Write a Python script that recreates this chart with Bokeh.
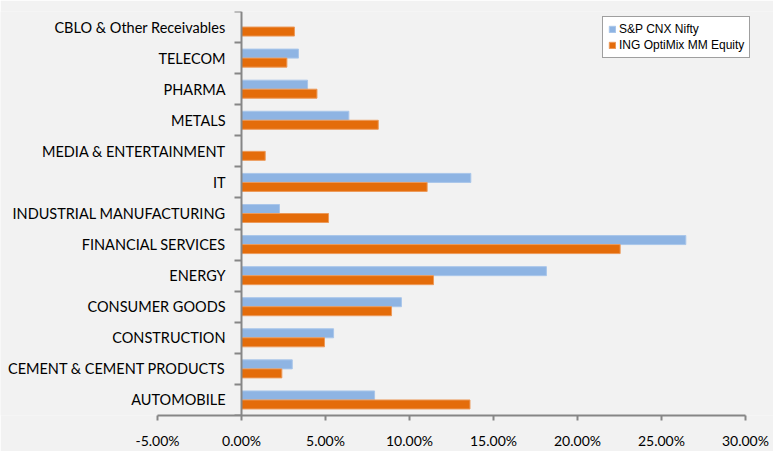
from bokeh.plotting import figure
from bokeh.models import (FixedTicker, LinearAxis, Range1d, Legend, LegendItem,
                          PrintfTickFormatter, ColumnDataSource)
from bokeh.transform import dodge
from bokeh.embed import file_html
from bokeh.resources import INLINE

categories = ["AUTOMOBILE", "CEMENT & CEMENT PRODUCTS", "CONSTRUCTION", "CONSUMER GOODS",
              "ENERGY", "FINANCIAL SERVICES", "INDUSTRIAL MANUFACTURING", "IT",
              "MEDIA & ENTERTAINMENT", "METALS", "PHARMA", "TELECOM",
              "CBLO & Other Receivables"]
nifty = [7.92, 3.02, 5.48, 9.52, 18.15, 26.45, 2.26, 13.65, 0.0, 6.39, 3.93, 3.39, 0.0]
ing = [13.60, 2.40, 4.94, 8.93, 11.43, 22.54, 5.18, 11.05, 1.41, 8.14, 4.49, 2.70, 3.15]
x_ticks = [-5, 0, 5, 10, 15, 20, 25, 30]
series_names = ["S&P CNX Nifty", "ING OptiMix MM Equity"]

BLUE = "#8EB4E3"
ORANGE = "#E46C0A"
BG = "#F2F2F2"
AXIS = "#868686"
FONT = "Lato"

n = len(categories)
ypos = [2 * i + 1 for i in range(n)]
source = ColumnDataSource(dict(y=ypos, nifty=nifty, ing=ing, cat=categories))

# visible axis runs from -5% to 30%; the frame is widened so the category labels fit inside it
p = figure(width=773, height=451, output_backend="svg", toolbar_location=None,
           x_range=Range1d(-14.35, 31.67), y_range=Range1d(0, 2 * n),
           y_axis_location=None, min_border_left=0, min_border_right=0,
           min_border_top=11, min_border_bottom=34)
p.background_fill_color = BG
p.border_fill_color = BG
p.outline_line_color = None
p.xgrid.visible = False
p.ygrid.visible = False

r1 = p.hbar(y=dodge("y", 0.29, range=p.y_range), left=0, right="nifty", height=0.58,
            source=source, fill_color=BLUE, line_color="#A9C6EA", line_width=1)
r2 = p.hbar(y=dodge("y", -0.29, range=p.y_range), left=0, right="ing", height=0.58,
            source=source, fill_color=ORANGE, line_color="#EC9A5A", line_width=1)

xa = p.xaxis[0]
xa.ticker = FixedTicker(ticks=x_ticks)
xa.bounds = (x_ticks[0], x_ticks[-1])
xa.formatter = PrintfTickFormatter(format="%.2f%%")
xa.axis_line_color = AXIS
xa.axis_line_width = 2
xa.major_tick_line_color = AXIS
xa.major_tick_line_width = 2
xa.major_tick_in = 0
xa.major_tick_out = 5
xa.minor_tick_line_color = None
xa.major_label_standoff = 11
xa.major_label_text_font = FONT
xa.major_label_text_font_size = "14px"
xa.major_label_text_color = "#000000"

tick_axis = LinearAxis(ticker=FixedTicker(ticks=list(range(0, 2 * n + 1, 2))),
                       fixed_location=0)
tick_axis.axis_line_color = AXIS
tick_axis.axis_line_width = 2
tick_axis.major_tick_line_color = AXIS
tick_axis.major_tick_line_width = 2
tick_axis.major_tick_in = 0
tick_axis.major_tick_out = 7
tick_axis.minor_tick_line_color = None
tick_axis.major_label_text_color = None
p.add_layout(tick_axis, "left")

label_axis = LinearAxis(ticker=FixedTicker(ticks=ypos),
                        major_label_overrides={y: c for y, c in zip(ypos, categories)},
                        fixed_location=0)
label_axis.axis_line_color = None
label_axis.major_tick_line_color = None
label_axis.minor_tick_line_color = None
label_axis.major_tick_in = 0
label_axis.major_tick_out = 0
label_axis.major_label_standoff = 16
label_axis.major_label_text_font = FONT
label_axis.major_label_text_font_size = "14.5px"
label_axis.major_label_text_color = "#000000"
p.add_layout(label_axis, "left")

legend = Legend(items=[LegendItem(label=series_names[0], renderers=[r1]),
                       LegendItem(label=series_names[1], renderers=[r2])],
                location=(602, 357))
legend.background_fill_color = "white"
legend.background_fill_alpha = 1
legend.border_line_color = "#404040"
legend.border_line_width = 1
legend.padding = 5
legend.spacing = 2
legend.margin = 0
legend.label_height = 14
legend.glyph_width = 8
legend.glyph_height = 8
legend.label_standoff = 3
legend.label_text_font = "Liberation Sans"
legend.label_text_font_size = "12px"
legend.label_text_color = "#000000"
p.add_layout(legend)

open("out.html", "w").write(file_html(p, INLINE))
